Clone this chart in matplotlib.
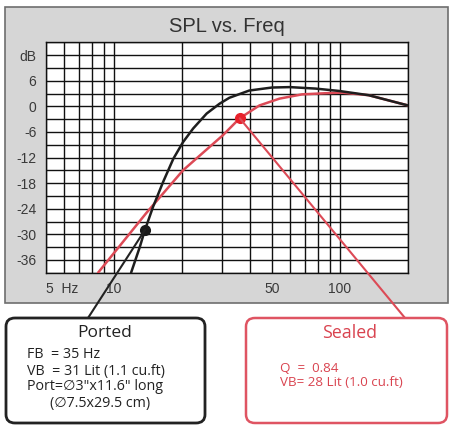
import matplotlib
matplotlib.use("Agg")
import matplotlib.pyplot as plt
from matplotlib.patches import Rectangle, FancyBboxPatch, ConnectionPatch
from matplotlib.ticker import FixedLocator, NullLocator

# ---- data ----
ported_freq = [11.9, 13.0, 13.7, 14.9, 16.5, 18.3, 20.2, 22.4, 25.7, 29.3, 32.4, 39.7, 50, 60, 78, 99, 134, 200]
ported_db = [-39, -33, -29, -23.5, -17.7, -12.3, -8.4, -5.2, -1.7, 0.6, 2.0, 3.7, 4.4, 4.5, 4.15, 3.6, 2.6, 0.2]
sealed_freq = [8.5, 13.9, 20.2, 30.3, 36, 44, 54, 68, 89, 102, 134, 200]
sealed_db = [-39, -25, -15, -6.8, -2.8, 0.2, 1.8, 2.8, 3.1, 3.2, 2.6, 0.2]
ported_marker = (13.7, -29)
sealed_marker = (36, -2.8)
x_ticks = [5, 10, 50, 100]
x_labels = ["5  Hz", "10", "50", "100"]
y_ticks = [12, 6, 0, -6, -12, -18, -24, -30, -36]
y_labels = ["dB", "6", "0", "-6", "-12", "-18", "-24", "-30", "-36"]
grid_x = [5, 6, 7, 8, 9, 10, 20, 30, 40, 50, 60, 70, 80, 90, 100, 200]
grid_y = list(range(-39, 16, 3))
title = "SPL vs. Freq"
ported_title = "Ported"
ported_lines = ["FB  = 35 Hz", "VB  = 31 Lit (1.1 cu.ft)", "Port=\u22053\"x11.6\" long", "(\u22057.5x29.5 cm)"]
sealed_title = "Sealed"
sealed_lines = ["Q  =  0.84", "VB= 28 Lit (1.0 cu.ft)"]

BOXFONT = ["Open Sans", "DejaVu Sans"]

W, H = 451, 426
fig = plt.figure(figsize=(W / 100, H / 100), dpi=100)
fig.patch.set_facecolor("white")

def px(x, y):
    return (x / W, 1 - y / H)

# gray panel
x0, y0 = px(5, 303)
panel = Rectangle((x0, y0), 443 / W, 296 / H, transform=fig.transFigure,
                  facecolor="#d6d6d6", edgecolor="#6e6e6e", lw=1.2, zorder=-1)
fig.patches.append(panel)

fig.text(227 / W, 1 - 27 / H, title, ha="center", va="center",
         fontsize=14.5, family="Liberation Sans", color="#333333")

l, b = px(46, 272.7)
ax = fig.add_axes([l, b, (408 - 46) / W, (272.7 - 42.3) / H])
ax.set_facecolor("white")
ax.set_xscale("log")
ax.set_xlim(5, 200)
ax.set_ylim(-39, 15)
for gx in grid_x:
    ax.axvline(gx, color="#111111", lw=1.0, zorder=1)
for gy in grid_y:
    ax.axhline(gy, color="#111111", lw=1.0, zorder=1)
for s in ax.spines.values():
    s.set_color("#111111")
    s.set_linewidth(1.0)

ax.xaxis.set_major_locator(FixedLocator(x_ticks))
ax.xaxis.set_minor_locator(NullLocator())
ax.set_xticklabels(x_labels)
ax.set_yticks(y_ticks)
ax.set_yticklabels(y_labels)
ax.tick_params(axis="both", length=0, labelsize=10, labelcolor="#3a3a3a")
ax.tick_params(axis="x", pad=7)
ax.tick_params(axis="y", pad=7)
for t in ax.get_xticklabels() + ax.get_yticklabels():
    t.set_family("Liberation Sans")
ax.get_xticklabels()[0].set_ha("left")

ax.plot(sealed_freq, sealed_db, color="#dc4a56", lw=1.8, zorder=3, solid_capstyle="round")
ax.plot(ported_freq, ported_db, color="#1e1e1e", lw=1.8, zorder=4, solid_capstyle="round")
ax.plot(*ported_marker, "o", color="#1a1a1a", ms=7, zorder=6)
ax.plot(*sealed_marker, "o", color="#e8202a", ms=7, zorder=6)

# leaders
con1 = ConnectionPatch(xyA=ported_marker, coordsA=ax.transData,
                       xyB=px(88, 318), coordsB=fig.transFigure,
                       color="#222222", lw=1.5, zorder=3)
fig.add_artist(con1)
con2 = ConnectionPatch(xyA=sealed_marker, coordsA=ax.transData,
                       xyB=px(405, 318), coordsB=fig.transFigure,
                       color="#dc4a56", lw=1.5, zorder=3)
fig.add_artist(con2)

# boxes
bx, by = px(6, 423)
box1 = FancyBboxPatch((bx, by), 199 / W, 105 / H, transform=fig.transFigure,
                      boxstyle="round,pad=0,rounding_size=0.02",
                      facecolor="white", edgecolor="#222222", lw=2.0, zorder=4)
fig.add_artist(box1)
bx, by = px(246, 423)
box2 = FancyBboxPatch((bx, by), 201 / W, 105 / H, transform=fig.transFigure,
                      boxstyle="round,pad=0,rounding_size=0.02",
                      facecolor="white", edgecolor="#df5462", lw=1.8, zorder=4)
fig.add_artist(box2)

fig.text(*px(105, 333), ported_title, ha="center", va="center", fontsize=12.5,
         family=BOXFONT, color="#222222", zorder=5)
ys = [355, 371, 387, 404]
xs = [27, 27, 27, 50]
for xx, yy, s in zip(xs, ys, ported_lines):
    fig.text(*px(xx, yy), s, ha="left", va="center", fontsize=10.3,
             family=BOXFONT, color="#222222", zorder=5)

fig.text(*px(350, 333), sealed_title, ha="center", va="center", fontsize=12.8,
         family=BOXFONT, color="#d9434f", zorder=5)
for yy, s in zip([368, 382], sealed_lines):
    fig.text(*px(280, yy), s, ha="left", va="center", fontsize=9.6,
             family=BOXFONT, color="#d9434f", zorder=5)

fig.savefig("out.png", dpi=100)
